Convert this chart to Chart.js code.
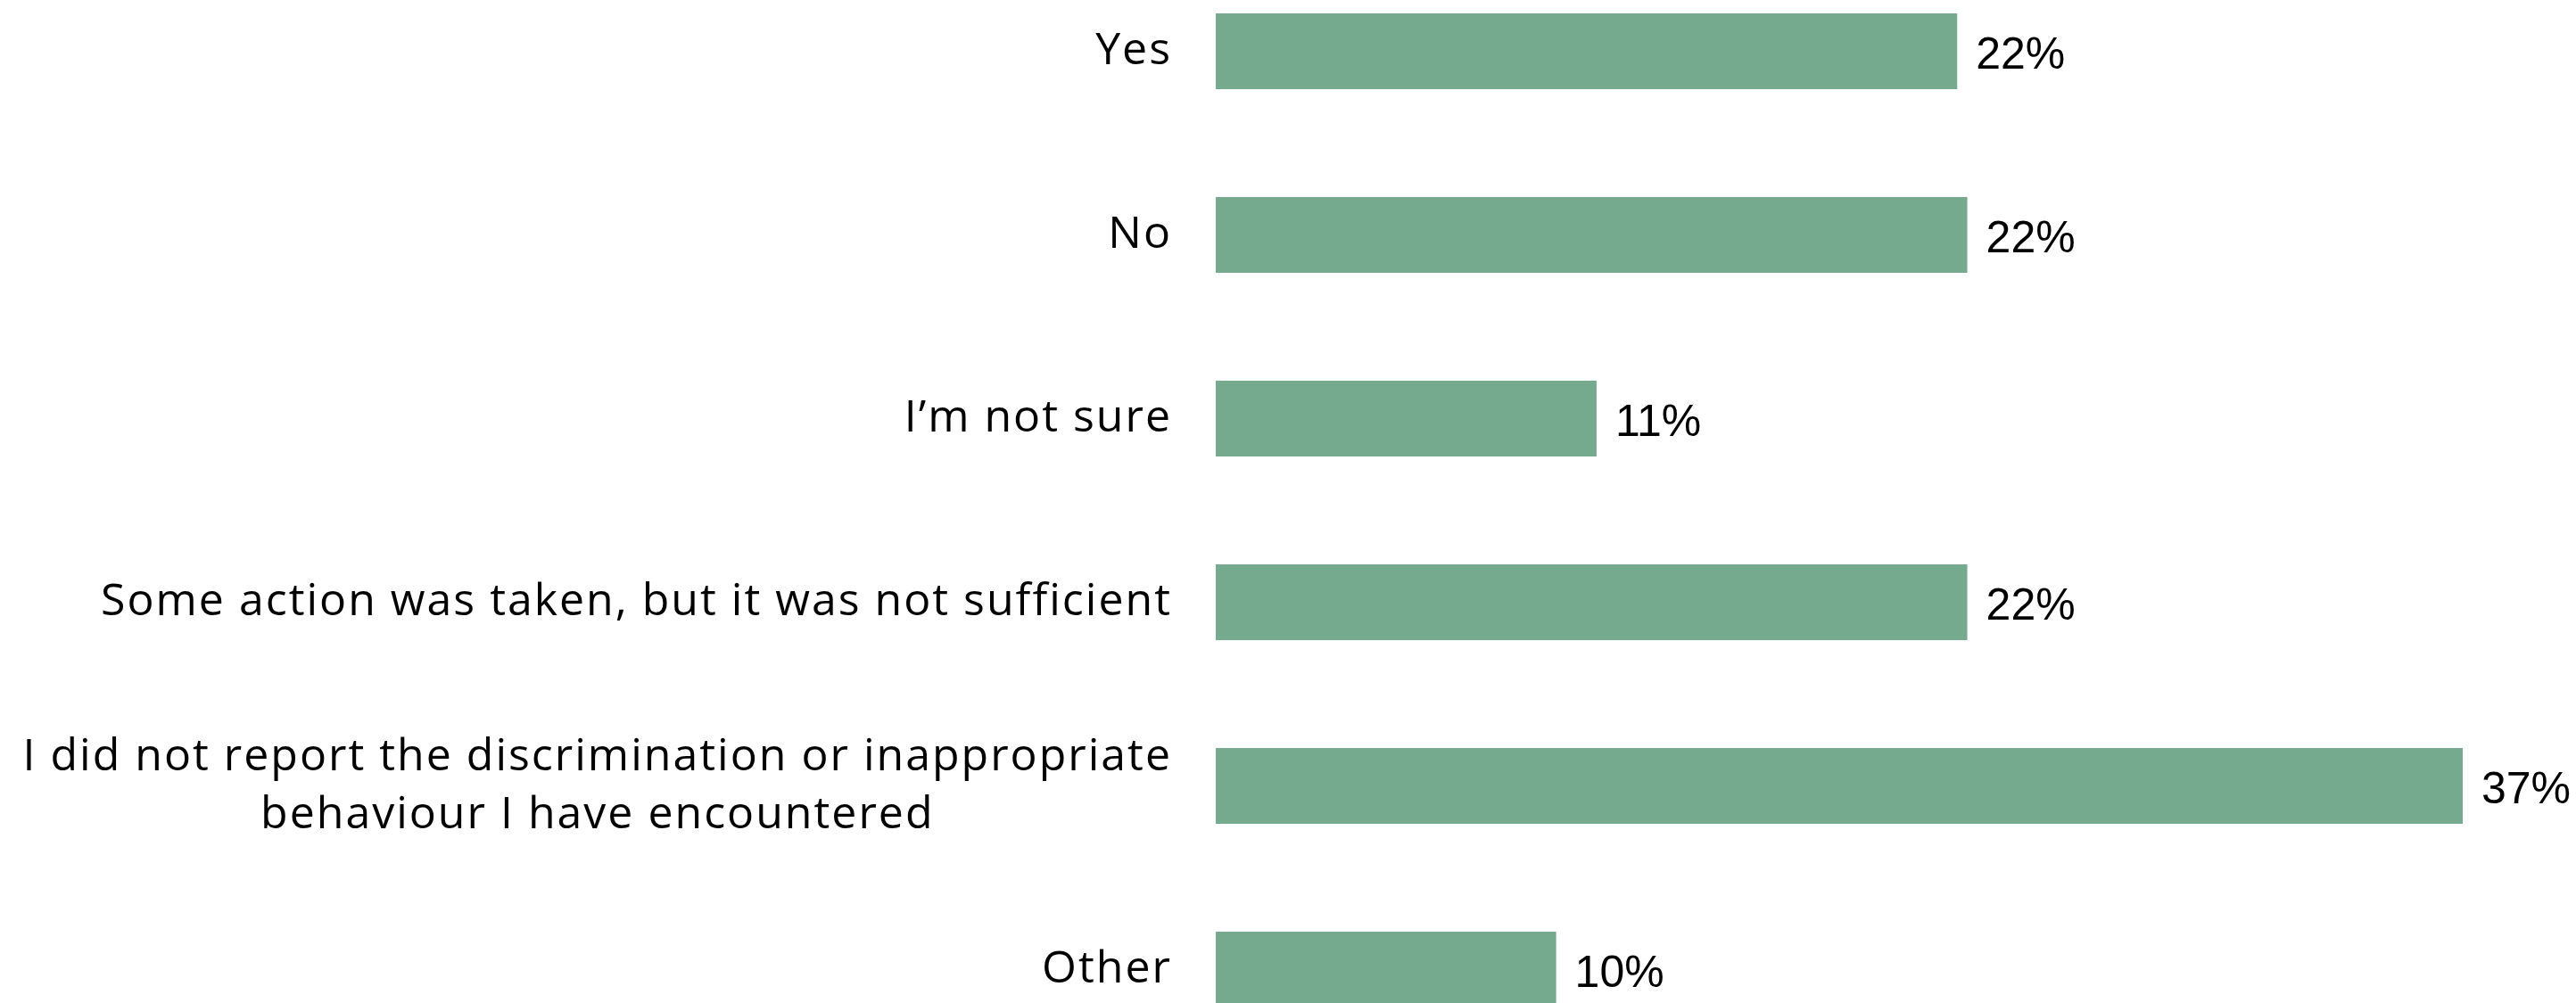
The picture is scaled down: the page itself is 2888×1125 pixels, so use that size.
<!DOCTYPE html>
<html>
<head>
<meta charset="utf-8">
<script src="https://cdn.jsdelivr.net/npm/chart.js@4.4.0/dist/chart.umd.min.js"></script>
<style>
  html, body { margin: 0; padding: 0; background: #ffffff; }
  #grafico { display: block; }
</style>
</head>
<body>
<canvas id="grafico" width="2888" height="1125"></canvas>
<script>
// Dados
const categorias = [
  "Yes",
  "No",
  "I’m not sure",
  "Some action was taken, but it was not sufficient",
  ["I did not report the discrimination or inappropriate", "behaviour I have encountered"],
  "Other"
];
const percentuais = [22.0, 22.3, 11.3, 22.3, 37.0, 10.1];
const rotulosValor = percentuais.map(v => Math.round(v) + "%");

const corBarra = "#76aa8f";
const fonteRotulo = "50px 'Open Sans', 'Noto Sans', sans-serif";
const fonteValor = "50px 'Liberation Sans', Arial, sans-serif";

// Desenha os rótulos das categorias e os valores ao lado das barras
const rotulosPlugin = {
  id: "rotulos",
  afterDatasetsDraw(chart) {
    const ctx = chart.ctx;
    const area = chart.chartArea;
    const escalaY = chart.scales.y;
    const meta = chart.getDatasetMeta(0);

    ctx.save();
    ctx.fillStyle = "#000000";
    ctx.textBaseline = "alphabetic";

    // categorias
    ctx.font = fonteRotulo;
    ctx.letterSpacing = "2px";
    const xDireita = area.left - 49;
    chart.data.labels.forEach((rotulo, i) => {
      const yc = escalaY.getPixelForValue(i);
      const linhas = Array.isArray(rotulo) ? rotulo : [rotulo];
      const alturaLinha = 65;
      if (linhas.length === 1) {
        ctx.textAlign = "right";
        ctx.fillText(linhas[0], xDireita, yc + 14.5);
      } else {
        const larguraMax = Math.max(...linhas.map(l => ctx.measureText(l).width));
        const xCentro = xDireita - larguraMax / 2;
        ctx.textAlign = "center";
        linhas.forEach((l, j) => {
          const y = yc + (j - (linhas.length - 1) / 2) * alturaLinha + 14.5;
          ctx.fillText(l, xCentro, y);
        });
      }
    });

    // valores
    ctx.letterSpacing = "0px";
    ctx.font = fonteValor;
    ctx.textAlign = "left";
    meta.data.forEach((barra, i) => {
      ctx.fillText(rotulosValor[i], barra.x + 21, barra.y + 19.5);
    });
    ctx.restore();
  }
};

const ctx = document.getElementById("grafico").getContext("2d");
new Chart(ctx, {
  type: "bar",
  data: {
    labels: categorias,
    datasets: [{
      data: percentuais,
      backgroundColor: corBarra,
      borderWidth: 0,
      categoryPercentage: 1,
      barPercentage: 0.413,
      clip: false
    }]
  },
  options: {
    indexAxis: "y",
    responsive: false,
    devicePixelRatio: 1,
    animation: false,
    layout: {
      padding: { left: 1363, right: 127, top: 57.5, bottom: 37.5 }
    },
    scales: {
      x: {
        display: false,
        min: 0,
        max: 37
      },
      y: {
        display: false,
        offset: false
      }
    },
    plugins: {
      legend: { display: false },
      tooltip: { enabled: false }
    }
  },
  plugins: [rotulosPlugin]
});
</script>
</body>
</html>
